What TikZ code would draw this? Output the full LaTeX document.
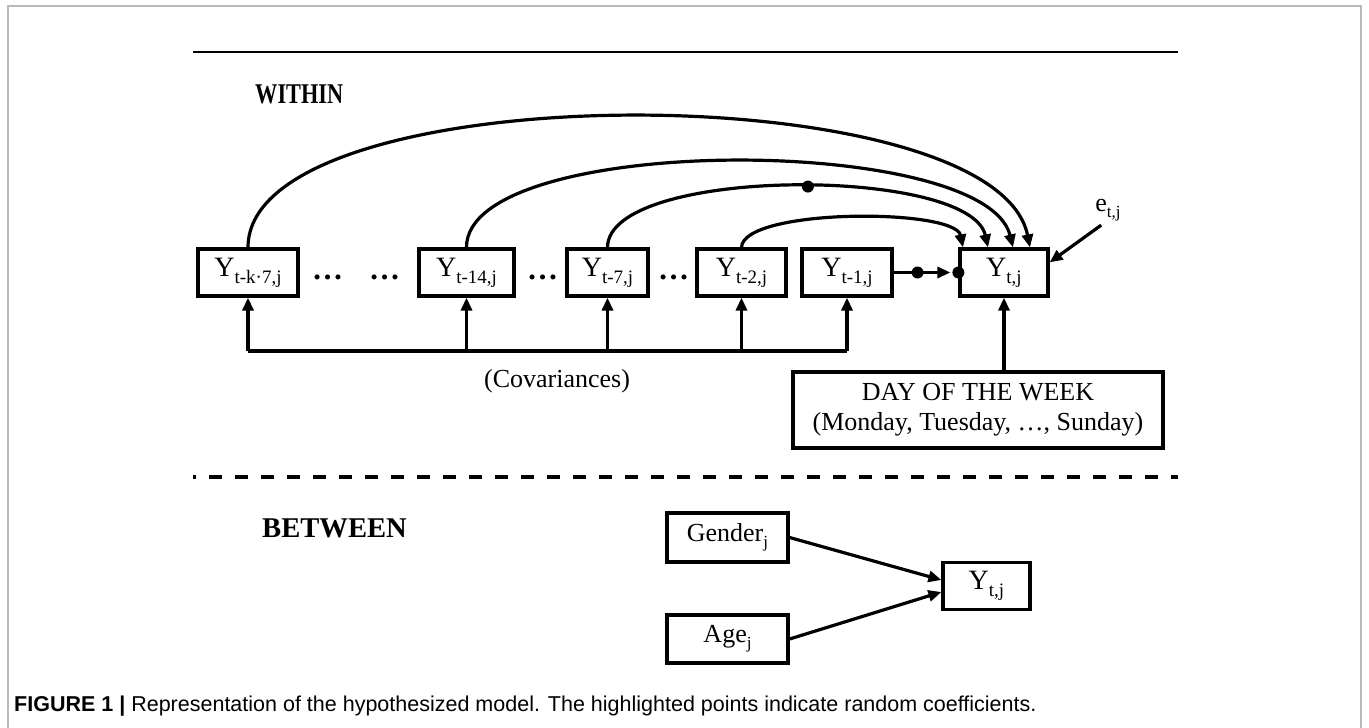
\documentclass[tikz,border=0pt]{standalone}
\usepackage{fontspec}
\setmainfont{Liberation Serif}
\newfontfamily\capfont{Liberation Sans}
\usetikzlibrary{arrows.meta,calc}
\newcommand\sbs[1]{\raisebox{-7pt}{\fontsize{19}{19}\selectfont #1}}
\newcommand\sbsm[1]{\raisebox{-6pt}{\fontsize{17}{17}\selectfont #1}}
\begin{document}
\begin{tikzpicture}[x=1pt,y=-1pt,
  box/.style={draw, line width=3.2pt, inner sep=0pt, font=\fontsize{26}{30}\selectfont},
  ybox/.style={box, minimum height=47pt, font=\fontsize{28}{30}\selectfont},
  arr/.style={line width=3.2pt, -{Triangle[length=13pt,width=11pt]}},
  conn/.style={line width=3.2pt},
  dotn/.style={circle, fill=black, inner sep=0pt, minimum size=12pt},
  dots/.style={font=\bfseries\fontsize{31}{31}\selectfont, anchor=base, inner sep=0pt},
  head/.style={anchor=west, inner sep=0pt, font=\bfseries\fontsize{28.6}{30}\selectfont}]
\useasboundingbox (0,0) rectangle (1369,728);
\fill[white] (0,0) rectangle (1369,728);
\draw[gray!55, line width=1.5pt] (8,728) -- (8,6) -- (1361,6) -- (1361,728);
\draw[line width=2.2pt] (193,52) -- (1178,52);
\node[head] (within) at (255,94) {\scalebox{0.78}[1]{WITHIN}};
% row of boxes
\node[ybox, minimum width=100pt] (a) at (248,272.5) {Y\sbs{t-k·7,j}};
\node[ybox, minimum width=95pt] (b) at (466.5,272.5) {Y\sbs{t-14,j}};
\node[ybox, minimum width=81pt] (c) at (607.5,272.5) {Y\sbs{t-7,j}};
\node[ybox, minimum width=89pt] (d) at (741.5,272.5) {Y\sbs{t-2,j}};
\node[ybox, minimum width=90pt] (e) at (847,272.5) {Y\sbs{t-1,j}};
\node[ybox, minimum width=88pt] (f) at (1004,272.5) {Y\sbs{t,j}};
\node[dots] (d1) at (327.5,279) {…};
\node[dots] (d2) at (384.5,279) {…};
\node[dots] (d3) at (542.5,279) {…};
\node[dots] (d4) at (673.5,279) {…};
% curves
\draw[arr] (a.north) .. controls (248,73) and (995,73) .. ([xshift=26pt]f.north);
\draw[arr] (b.north) .. controls (466,133) and (985,133) .. ([xshift=9pt]f.north);
\draw[arr] (c.north) .. controls (608,166) and (970,166) .. ([xshift=-16pt]f.north) node[dotn, pos=0.53] (rc) {};
\draw[arr] (d.north) .. controls (743,208) and (955,208) .. ([xshift=-41pt]f.north);
% lag-1
\draw[arr, shorten >=8pt] (e.east) -- node[dotn, pos=0.37] (r1) {} (f.west);
\node[dotn] (fw) at (f.west) {};
% e
\node[inner sep=0pt, font=\fontsize{26}{28}\selectfont] (et) at (1108,210) {e\sbsm{t,j}};
\draw[arr] ([xshift=6pt,yshift=-4pt]et.south west) -- ([yshift=-15pt]f.north east);
% covariances
\coordinate (cv) at (0,351);
\draw[conn] (a.south |- cv) -- (e.south |- cv);
\foreach \n in {a,b,c,d,e} \draw[arr] (\n.south |- cv) -- (\n.south);
\node[font=\fontsize{26}{30}\selectfont] (covl) at (557,381) {(Covariances)};
% day of week
\node[box, minimum width=370pt, minimum height=76pt, align=center] (day) at (978,410) {DAY OF THE WEEK\\(Monday, Tuesday, …, Sunday)};
\draw[arr] (day.north -| f.south) -- (f.south);
% dashed separator
\draw[line width=3.2pt, dash pattern=on 13pt off 13pt, dash phase=10pt] (193,477) -- (1178,477);
\node[head] (between) at (262,528) {BETWEEN};
\node[box, minimum width=121pt, minimum height=49pt] (g) at (727.5,537.5) {Gender\sbsm{j}};
\node[box, minimum width=121pt, minimum height=48pt] (ag) at (727.5,639) {Age\sbsm{j}};
\node[ybox, minimum width=87pt] (y2) at (986.5,586) {Y\sbs{t,j}};
\draw[arr] (g.east) -- ([yshift=6pt]y2.west);
\draw[arr] (ag.east) -- ([yshift=-6pt]y2.west);
% caption
\node[anchor=west, inner sep=0pt, font=\capfont\fontsize{21.5}{24}\selectfont] (cap) at (14,706) {\textbf{FIGURE 1 |} Representation of the hypothesized model. The highlighted points indicate random coefficients.};
\end{tikzpicture}
\end{document}
